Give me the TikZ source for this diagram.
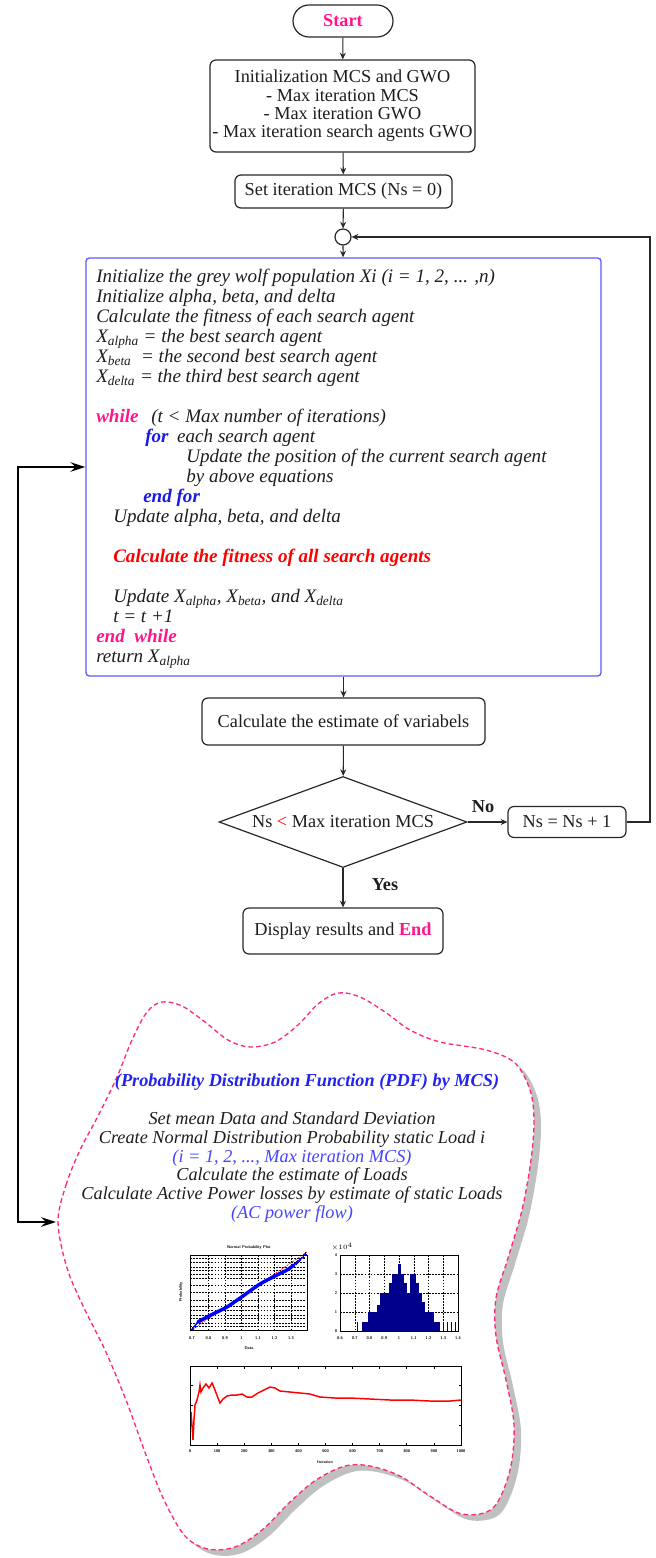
\documentclass[tikz,border=0pt]{standalone}
\usepackage{fontspec}
\setmainfont{Liberation Serif}
\usepackage{xcolor}
\usetikzlibrary{shapes.geometric,arrows.meta,positioning}

\definecolor{pinkc}{RGB}{255,20,140}
\definecolor{cloudc}{RGB}{255,40,130}
\definecolor{gwoblue}{RGB}{90,90,255}
\definecolor{forblue}{RGB}{25,25,230}
\definecolor{pdfblue}{RGB}{35,35,240}
\definecolor{lightblue}{RGB}{70,70,255}
\definecolor{shadowc}{RGB}{192,192,192}
\definecolor{navyc}{RGB}{0,0,140}
\definecolor{boxgray}{RGB}{40,40,40}
\definecolor{txtc}{RGB}{30,30,30}

\newcommand{\msz}{\fontsize{13.7}{13.75}\selectfont}
\newcommand{\tsz}{\fontsize{3}{3}\selectfont\sffamily\bfseries}
\newcommand{\Xsub}[1]{X\textsubscript{#1}}
\newcommand{\cloudpath}{plot[smooth cycle, tension=0.55] coordinates {(58,1222) (66,1185) (80,1150) (97,1118) (117,1077) (132,1040) (147,1012) (162,1002) (182,1006) (205,1022) (228,1040) (250,1047) (275,1042) (298,1025) (318,1004) (338,993) (360,997) (385,1012) (410,1030) (440,1042) (486,1050) (515,1063) (530,1090) (534,1120) (531,1160) (522,1210) (508,1258) (496,1298) (496,1336) (506,1380) (514,1425) (510,1470) (493,1508) (462,1514) (430,1496) (400,1476) (370,1466) (345,1466) (316,1480) (290,1502) (262,1530) (235,1547) (208,1549) (185,1536) (164,1500) (146,1455) (126,1400) (105,1350) (84,1308) (67,1268)}}

\tikzset{
  box/.style={draw=boxgray, line width=0.9pt, rounded corners=4.5pt, fill=white, inner sep=0pt, align=center, font=\msz, text=txtc},
  flow/.style={draw=boxgray, line width=0.8pt, -{Stealth[length=5pt,width=4.5pt]}},
  loopl/.style={draw=black, line width=2.2pt, {Stealth[length=11pt,width=7pt]}-{Stealth[length=11pt,width=7pt]}},
  gridl/.style={draw=black, line width=0.3pt, dash pattern=on 1.3pt off 1pt},
  axl/.style={draw=black, line width=0.5pt},
  tick/.style={inner sep=0pt, font=\tsz}
}

\begin{document}
\begin{tikzpicture}[x=0.75pt,y=0.75pt,yscale=-1,xscale=1]
\useasboundingbox (0,0) rectangle (656,1558);

% flow chart
\node (start) at (343,21) [box, rounded corners=12pt, minimum width=75pt, minimum height=24pt, font=\msz\bfseries, text=pinkc] {Start};

\node (init) at (342.5,106) [box, minimum width=198.75pt, minimum height=69pt] {Initialization MCS and GWO\\- Max iteration MCS\\- Max iteration GWO\\- Max iteration search agents GWO};

\node (setit) at (343.5,191.5) [box, minimum width=162.75pt, minimum height=24.75pt] {Set iteration MCS (Ns = 0)};

\node (junc) at (343,237) [circle, draw=boxgray, line width=0.9pt, fill=white, minimum size=12pt, inner sep=0pt] {};

\node (gwo) at (343.5,467) [draw=gwoblue, line width=1pt, rounded corners=2.5pt, minimum width=386.25pt, minimum height=313.5pt, inner sep=0pt] {};

\node (gwotxt) at (96,269) [anchor=north west, inner sep=0pt, align=left, text=txtc, font=\itshape\fontsize{14.3}{15}\selectfont] {%
Initialize the grey wolf population Xi (i = 1, 2, ... ,n)\\
Initialize alpha, beta, and delta\\
Calculate the fitness of each search agent\\
\Xsub{alpha} = the best search agent\\
\Xsub{beta}\ \ = the second best search agent\\
\Xsub{delta} = the third best search agent\\[15pt]
{\bfseries\color{pinkc}while}\hspace{9.5pt}(t < Max number of iterations)\\
\hspace*{36.75pt}{\bfseries\color{forblue}for}\hspace{6.5pt}each search agent\\
\hspace*{67.5pt}Update the position of the current search agent\\
\hspace*{67.5pt}by above equations\\
\hspace*{35.25pt}{\bfseries\color{forblue}end for}\\
\hspace*{12.75pt}Update alpha, beta, and delta\\[15pt]
\hspace*{12.75pt}{\bfseries\color{red}Calculate the fitness of all search agents}\\[15pt]
\hspace*{12.75pt}Update \Xsub{alpha}, \Xsub{beta}, and \Xsub{delta}\\
\hspace*{12.75pt}t = t +1\\
{\bfseries\color{pinkc}end\ \ while}\\
return \Xsub{alpha}};

\node (calc) at (343.5,721.5) [box, minimum width=212.25pt, minimum height=35.25pt] {Calculate the estimate of variabels};

\node (dec) at (343,822) [diamond, draw=boxgray, line width=0.9pt, fill=white, inner sep=0pt, aspect=2.7, minimum width=186pt, minimum height=68.25pt, font=\msz, text=txtc] {Ns {\color{red}<} Max iteration MCS};

\node (inc) at (567,822) [box, minimum width=88.5pt, minimum height=23.25pt] {Ns = Ns + 1};

\node (disp) at (343,931) [box, minimum width=150pt, minimum height=34.5pt] {Display results and {\bfseries\color{pinkc}End}};

\node (nolbl) at (483,807) [font=\msz\bfseries, text=txtc, inner sep=0pt] {No};
\node (yeslbl) at (385,885) [font=\msz\bfseries, text=txtc, inner sep=0pt] {Yes};

\coordinate (loopr) at (650,822);
\coordinate (bend) at (18,1222);
\coordinate (pdfin) at (56,1222);

\draw[flow] (start) -- (init);
\draw[flow] (init) -- (setit);
\draw[flow] (setit) -- (junc);
\draw[flow] (junc) -- (gwo);
\draw[flow] (gwo) -- (calc);
\draw[flow] (calc) -- (dec);
\draw[flow] (dec) -- (inc);
\draw[flow] (dec) -- (disp);
\draw[flow] (inc.east) -- (loopr) |- (junc.east);

% MCS cloud
\fill[shadowc, shift={(7,6)}] \cloudpath;
\fill[white] \cloudpath;
\draw[cloudc, line width=1pt, dash pattern=on 3.5pt off 2.3pt] \cloudpath;

\draw[loopl] (gwo.west) -| (bend) -- (pdfin);

\node (pdftitle) at (307,1082) [font=\msz\bfseries\itshape, text=pdfblue] {(Probability Distribution Function (PDF) by MCS)};

\node (pdftxt) at (292,1167) [align=center, text=txtc, font=\itshape\fontsize{13.7}{14}\selectfont] {Set mean Data and Standard Deviation\\
Create Normal Distribution Probability static Load i\\
{\color{lightblue}(i = 1, 2, ..., Max iteration MCS)}\\
Calculate the estimate of Loads\\
Calculate Active Power losses by estimate of static Loads\\
{\color{lightblue}(AC power flow)}};

% normal probability plot
\foreach \z in {-3.09,-2.75,-2.33,-2.05,-1.64,-1.28,-0.67,0,0.67,1.28,1.64,2.05,2.33,2.75,3.09}
  \draw[gridl] (190,{1292.5-11*\z}) -- (307,{1292.5-11*\z});
\foreach \k in {1,...,6}
  \draw[gridl] ({192+16.5*\k},1255) -- ({192+16.5*\k},1330);
\draw[red, line width=0.5pt, dash pattern=on 1.5pt off 1pt] (190,1331) -- (307,1252);
\draw[blue, line width=1pt] (192,1329) -- (198,1322);
\draw[blue, line width=2.6pt, line cap=round] plot[smooth] coordinates {(198,1322) (207,1317) (217,1312) (227,1307) (243,1296) (260,1284) (277,1275) (287,1270) (294,1265)};
\draw[blue, line width=1pt] (294,1265) -- (303,1257);
\foreach \px/\py in {192/1329,195/1326,296/1263,299/1260,303/1257,305/1254}
  \draw[blue, line width=0.5pt] ({\px-1.6},\py) -- ({\px+1.6},\py) (\px,{\py-1.6}) -- (\px,{\py+1.6});
\draw[axl] (190,1255) rectangle (307,1330);
\foreach \v [count=\k from 0] in {0.7,0.8,0.9,1,1.1,1.2,1.3}
  \node (npx\k) at ({192+16.5*\k},1338) [tick] {\v};
\node (nptitle) at (249,1248) [tick] {Normal Probability Plot};
\node (npxl) at (249,1348) [tick] {Data};
\node (npyl) at (181,1292) [tick, rotate=90] {Probability};

% histogram
\foreach \k in {1,...,7}
  \draw[gridl] ({340+14.75*\k},1255) -- ({340+14.75*\k},1331);
\foreach \yy in {1274,1293,1312}
  \draw[gridl] (340,\yy) -- (458,\yy);
\foreach \bx/\bh in {362/9,365/9,368/19,371/19,374/19,377/26,380/38,383/38,386/38,389/48,392/57,395/57,398/67,401/57,404/48,407/38,410/57,413/57,416/48,419/38,422/29,425/19,428/19,431/19,434/9,437/9}
  \fill[navyc] (\bx,1331) rectangle ++(2.6,-\bh);
\foreach \bx in {357,443,447,451,455}
  \fill[navyc] (\bx,1331) rectangle ++(1,-9);
\draw[axl] (340,1255) rectangle (458,1331);
\foreach \v [count=\k from 0] in {0.6,0.7,0.8,0.9,1,1.1,1.2,1.3,1.4}
  \node (hsx\k) at ({340+14.75*\k},1338) [tick] {\v};
\foreach \v [count=\k from 0] in {0,1,2,3,4}
  \node (hsy\k) at (336,{1331-19*\k}) [tick] {\v};
\node (hsexp) at (342,1247) [tick] {$\times10^{4}$};

% convergence plot
\foreach \k in {1,...,9} {
  \draw[axl] ({190+27.1*\k},1366) -- ++(0,2.5);
  \draw[axl] ({190+27.1*\k},1445) -- ++(0,-2.5);
}
\foreach \k in {1,...,3} {
  \draw[axl] (190,{1366+19.75*\k}) -- ++(2.5,0);
  \draw[axl] (461,{1366+19.75*\k}) -- ++(-2.5,0);
}
\draw[red, line width=1.1pt] plot coordinates {(191,1412) (192,1425) (193,1440) (194,1420) (195,1405) (197,1400) (199,1392) (200,1385) (201,1392) (203,1388) (206,1384) (209,1388) (212,1383) (215,1390) (218,1398) (220,1403) (223,1399) (227,1396) (232,1395) (237,1395) (242,1394) (247,1397) (252,1397) (258,1393) (262,1391) (266,1389) (270,1387) (275,1388) (280,1391) (290,1392) (300,1393) (310,1394) (320,1397) (335,1398) (350,1398) (370,1399) (390,1400) (410,1400) (430,1401) (450,1401) (461,1400)};
\draw[axl] (190,1366) rectangle (461,1445);
\foreach \v [count=\k from 0] in {0,100,200,300,400,500,600,700,800,900,1000}
  \node (cvx\k) at ({190+27.1*\k},1451) [tick] {\v};
\node (cvxl) at (325,1462) [tick] {Iteration};

\end{tikzpicture}
\end{document}
